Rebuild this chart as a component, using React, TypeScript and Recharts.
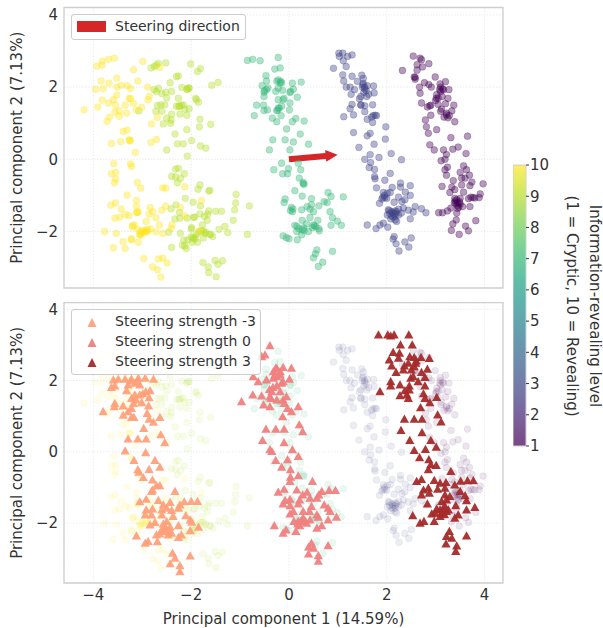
import React from 'react';
import { ScatterChart, Scatter, XAxis, YAxis, CartesianGrid, ReferenceArea, ReferenceLine } from 'recharts';

type Pt = [number, number];

// information-revealing level 10
const level10: Pt[] = [[-3.57,2.8],[-3.69,2.77],[-3.82,2.72],[-3.93,2.58],[-3.82,2.61],[-2.99,2.71],[-2.64,2.54],[-3.18,2.48],[-3.84,2.17],[-3.68,2.11],[-3.52,2.25],[-3.09,2.17],[-3.95,1.94],[-3.8,1.96],[-3.52,2],[-3.43,2.05],[-3.31,2.04],[-3.24,1.96],[-3.52,1.78],[-2.89,2],[-3.82,1.64],[-4.19,1.37],[-3.91,1.45],[-3.69,1.56],[-3.59,1.65],[-3.55,1.5],[-3.27,1.69],[-3.24,1.68],[-3.35,1.5],[-3.18,1.55],[-3.01,1.44],[-2.88,1.65],[-2.86,1.74],[-3.47,1.34],[-3.56,1.31],[-3.12,1.37],[-3.32,1.28],[-3.47,1.19],[-3.67,1.17],[-3.72,1.05],[-2.69,1.16],[-2.81,0.98],[-3.31,0.81],[-3.39,0.77],[-3.27,0.54],[-3.25,0.51],[-3.63,0.44],[-3.44,0.49],[-2.82,0.47],[-2.71,0.55],[-3.14,0.19],[-3.58,-0.12],[-3.24,-0.13],[-3.22,-0.2],[-3.54,-0.36],[-3.63,-0.4],[-3.54,-0.55],[-3.57,-0.65],[-3.1,-0.64],[-3.03,-0.8],[-2.58,-0.79],[-2.52,-0.8],[-3.31,-0.99],[-3.12,-1.14],[-3.55,-1.21],[-3.64,-1.27],[-3.12,-1.31],[-3.43,-1.38],[-3.08,-1.46],[-3.12,-1.48],[-2.84,-1.34],[-2.79,-1.45],[-2.86,-1.52],[-2.52,-1.3],[-2.6,-1.41],[-2.13,-0.76],[-1.79,-1.14],[-2.22,-1.33],[-2.13,-1.57],[-3.34,-1.53],[-3.27,-1.56],[-3.46,-1.6],[-3.56,-1.63],[-2.72,-1.62],[-2.92,-1.72],[-2.65,-1.82],[-3.2,-1.84],[-3.16,-1.82],[-2.39,-1.81],[-2.41,-1.92],[-3.77,-2],[-3.53,-2.05],[-3.09,-1.94],[-3.01,-2.03],[-3.05,-2.1],[-2.98,-1.98],[-2.89,-1.95],[-2.83,-1.93],[-2.92,-2],[-2.72,-2.01],[-2.58,-2.05],[-3.22,-2.23],[-3.39,-2.28],[-3.08,-2.3],[-3.59,-2.45],[-3.35,-2.47],[-2.97,-2.75],[-2.67,-2.76],[-2.58,-2.74],[-2.49,-2.87],[-2.79,-2.98],[-2.69,-3.06],[-2.62,-3.26],[-1.83,-1.98],[-2.95,-2.02],[-2.9,-2],[-3.05,-2.06],[-3.02,-2.1],[-3.22,-2.2],[-3.2,-1.88],[-3.1,-1.47],[-3.25,0.53],[-3.03,-2],[-2.94,-1.96]];

// level 9
const level9: Pt[] = [[-2.52,2.67],[-2.67,2.66],[-2.71,2.61],[-2.75,2.57],[-2.82,2.53],[-2.01,2.64],[-1.81,2.51],[-1.87,2.43],[-2.26,2.31],[-2.3,2.29],[-2.43,2.12],[-1.45,2.13],[-1.58,2.05],[-2.04,1.97],[-2.09,1.95],[-2.19,1.99],[-2.4,1.88],[-2.67,1.97],[-2.76,1.93],[-2.71,1.88],[-2.52,1.86],[-2.6,1.82],[-2.5,1.7],[-2.26,1.69],[-1.91,1.69],[-1.89,1.65],[-1.85,1.58],[-2.54,1.51],[-2.62,1.51],[-2.69,1.49],[-2.3,1.47],[-2.24,1.47],[-2.16,1.51],[-2.13,1.39],[-2.04,1.4],[-2.72,1.33],[-2.6,1.33],[-3.07,1.34],[-2.4,1.25],[-2.23,1.25],[-2.09,1.22],[-2.5,1.14],[-2.41,1.09],[-1.82,1.11],[-1.6,0.97],[-2.57,0.98],[-2.42,1],[-1.83,0.9],[-2.09,0.82],[-2.33,0.7],[-1.99,0.52],[-2.28,0.43],[-2.16,0.43],[-1.81,0.37],[-1.7,0.31],[-2.5,0.26],[-2.08,0.09],[-2.26,-0.25],[-2.32,-0.27],[-2.14,-0.4],[-2.4,-0.47],[-2.32,-0.49],[-2.22,-0.53],[-2.28,-0.65],[-1.82,-0.71],[-1.86,-0.83],[-1.62,-0.86],[-1.64,-0.88],[-1.08,-0.97],[-2.12,-1.08],[-1.96,-1.19],[-1.81,-1.29],[-1.09,-1.21],[-0.81,-1.29],[-2.31,-1.26],[-2.41,-1.37],[-2.24,-1.47],[-1.5,-1.44],[-1.38,-1.44],[-1.64,-1.43],[-1.11,-1.4],[-1.82,-1.51],[-1.66,-1.52],[-1.73,-1.58],[-1.93,-1.6],[-1.95,-1.61],[-2.33,-1.65],[-2.23,-1.63],[-2.08,-1.63],[-1.67,-1.69],[-1.14,-1.69],[-1.77,-1.82],[-1.99,-1.89],[-2,-1.93],[-1.31,-1.86],[-1.43,-1.94],[-1.75,-1.98],[-1.7,-2.02],[-1.25,-2.03],[-0.85,-2.08],[-2.22,-2.05],[-2.46,-2.02],[-1.89,-2.08],[-1.96,-2.16],[-1.92,-2.2],[-1.6,-2.08],[-1.56,-2.14],[-1.75,-2.18],[-2.15,-2.24],[-2.07,-2.23],[-1.98,-2.3],[-1.87,-2.3],[-2.18,-2.38],[-2.13,-2.4],[-2.1,-2.47],[-2.4,-2.44],[-1.76,-2.86],[-1.51,-2.8],[-1.36,-2.81],[-1.45,-2.91],[-1.65,-2.98],[-1.64,-3.14],[-1.49,-3.25],[-1.8,-1.98],[-1.85,-2.02],[-1.95,-2.2],[-2,-2.15],[-1.72,-2.05],[-1.62,-2.08],[-2.25,1.47],[-2.2,1.5],[-2.08,1.93],[-2.05,1.98]];

// level 7
const level7: Pt[] = [[-0.85,2.74],[-0.74,2.77],[-0.59,2.73],[-0.22,2.82],[-0.29,2.5],[-0.18,2.53],[-0.47,2.32],[-0.46,2.17],[-0.25,2.16],[-0.17,2.16],[-0.18,2.11],[-0.55,2.04],[-0.43,1.98],[-0.46,1.93],[-0.51,1.86],[-0.27,1.88],[-0.13,1.91],[0.02,1.85],[-0.51,1.74],[-0.22,1.65],[-0.12,1.65],[-0.66,1.5],[-0.52,1.5],[-0.44,1.37],[-0.51,1.35],[-0.22,1.42],[-0.25,1.35],[-0.71,1.21],[-0.34,1.14],[-0.16,1.21],[-0.25,1.04],[-0.05,0.84],[-0.33,0.54],[-0.08,0.54],[-0.4,0.26],[0.02,1.56],[0.07,2.11],[0.25,2.14],[0.09,1.94],[0.03,1.88],[0.17,1.72],[-0.1,1.69],[-0.15,1.47],[0.01,1.37],[0.14,1.13],[0.07,1.04],[0.31,1.06],[0.23,0.7],[0.09,0.48],[0.4,0.42],[0.02,0.26],[-0.22,1.97],[0.19,-0.11],[-0.15,-0.11],[-0.31,-0.29],[-0.13,-0.4],[-0.03,-0.4],[-0.01,-0.26],[0.24,-0.29],[0.21,-0.52],[0.29,-0.64],[0.31,-0.69],[0.12,-0.87],[0.27,-1.02],[-0.08,-1.1],[-0.1,-1.2],[0.46,-1.09],[0.8,-0.92],[0.86,-1.03],[1.11,-1.04],[0.72,-1.17],[0.78,-1.2],[0.61,-1.29],[0.46,-1.26],[0.37,-1.31],[0.43,-1.38],[0.5,-1.45],[0.05,-1.33],[0.07,-1.45],[0.26,-1.4],[0.84,-1.45],[0.89,-1.62],[0.99,-1.71],[1.07,-1.83],[0.86,-1.83],[0.59,-1.69],[0.27,-1.69],[0.43,-1.61],[0.36,-1.79],[0.52,-1.84],[0.48,-1.89],[0.61,-1.92],[0.62,-1.98],[0.12,-1.83],[0.16,-1.86],[0.16,-2],[0.31,-1.98],[0.4,-2],[0.26,-2.09],[-0.12,-2.12],[-0.05,-2.17],[0,-2.2],[0.17,-2.23],[0.57,-2.51],[0.89,-2.55],[0.54,-2.62],[0.5,-2.73],[0.69,-2.85],[0.6,-2.97],[-0.22,2.2],[-0.15,2.12],[-0.2,1.42],[-0.23,1.36],[0.03,-1.42],[0.08,-1.38],[0.5,-1.82],[0.55,-1.87],[0.3,-1.9],[0.27,-1.95],[0.2,-1.92],[0.29,-0.68],[-0.5,1.9]];

// level 3
const level3: Pt[] = [[1.02,2.94],[1.1,2.94],[1.03,2.85],[1.2,2.85],[1.29,2.89],[1.11,2.73],[0.91,2.52],[1.17,2.57],[1.1,2.34],[1.29,2.3],[1.49,2.33],[1.12,2.17],[1.52,2.24],[1.4,2.16],[1.17,2],[1.25,2],[1.34,1.93],[1.51,2.06],[1.55,2],[1.6,2.04],[1.73,2.03],[1.74,1.84],[1.27,1.8],[1.47,1.74],[1.59,1.74],[1.44,1.68],[1.63,1.8],[1.29,1.52],[1.25,1.4],[1.47,1.51],[1.55,1.48],[1.71,1.51],[1.55,1.32],[1.12,1.18],[1.32,1.23],[1.6,1.11],[1.72,1.21],[1.79,1.21],[1.71,1.02],[1.98,0.9],[1.32,0.74],[1.66,0.72],[1.6,0.65],[1.97,0.56],[1.74,0.42],[1.43,0.33],[1.66,0.13],[1.84,0.05],[2.09,0.16],[2.3,-0.01],[1.55,0],[1.67,-0.09],[1.64,-0.23],[1.75,-0.28],[2.07,-0.39],[1.75,-0.48],[1.76,-0.54],[1.96,-0.58],[1.79,-0.79],[2.11,-0.78],[2.28,-0.66],[2.28,-0.77],[2.48,-0.73],[2.38,-0.91],[2.48,-1],[1.93,-0.92],[2.01,-0.94],[2.07,-0.92],[1.96,-1.06],[1.9,-1.1],[2,-1.08],[2.24,-1.05],[2.37,-1.12],[2.31,-1.17],[2.15,-1.19],[1.85,-1.22],[2.44,-1.41],[2.54,-1.46],[2.58,-1.31],[2.71,-1.37],[2.8,-1.48],[2.03,-1.4],[2.1,-1.45],[2.17,-1.43],[2.24,-1.38],[2.34,-1.35],[2.01,-1.54],[2.1,-1.57],[2.17,-1.58],[2.24,-1.54],[2.3,-1.49],[2.17,-1.68],[2.08,-1.65],[2.2,-1.72],[2.48,-1.65],[1.6,-1.82],[1.78,-1.92],[1.86,-1.82],[1.93,-1.77],[2.02,-1.88],[2.15,-2.14],[2.13,-2.21],[2.19,-2.34],[2.5,-2.18],[2.37,-2.29],[2.45,-2.43],[2.25,-2.54],[2.12,-1.48],[2.15,-1.52],[2.18,-1.5],[2.06,-1.5],[2.2,-1.45],[2.13,-1.6],[2.05,-1.42],[1.95,-1],[1.92,-1.05],[1.5,2],[1.55,1.95],[1.52,2.1],[1.58,1.9],[1.53,1.85],[1.47,1.5],[1.76,1.22],[1.69,1.17]];

// level 1
const level1: Pt[] = [[2.54,2.86],[2.68,2.8],[2.71,2.76],[2.86,2.65],[2.62,2.62],[2.73,2.56],[2.62,2.47],[2.32,2.46],[2.56,2.28],[2.58,2.22],[2.99,2.28],[2.77,2.12],[2.86,2.07],[3.2,2.15],[3.09,2.09],[2.67,2],[2.91,2],[3.1,2],[3.16,1.93],[3.27,1.93],[2.68,1.83],[3.02,1.79],[3.01,1.69],[3.13,1.74],[3.25,1.69],[2.71,1.56],[2.88,1.48],[2.83,1.45],[3.05,1.52],[3.2,1.54],[3.37,1.5],[3.12,1.39],[3.1,1.33],[3.33,1.34],[2.9,1.22],[3.22,1.23],[3.17,1.17],[3.39,1.04],[2.79,1.09],[2.81,0.9],[3.02,0.82],[2.85,0.72],[3.31,0.6],[3.65,0.64],[2.88,0.4],[3.16,0.26],[2.97,0.26],[3.35,0.28],[3.46,0.34],[3.62,0.16],[3.22,0.13],[3.19,0],[3.11,-0.04],[3.24,-0.22],[3.19,-0.29],[3.22,-0.44],[3.57,-0.18],[3.63,-0.29],[3.5,-0.36],[3.69,-0.44],[3.6,-0.52],[3.36,-0.59],[3.53,-0.52],[3.74,-0.63],[3.97,-0.68],[3.13,-0.75],[3.33,-0.77],[3.53,-0.71],[3.7,-0.73],[3.39,-0.84],[3.29,-0.92],[3.57,-0.91],[3.91,-0.96],[3.89,-1.06],[3.76,-1.06],[3.67,-1.09],[3.7,-1.31],[3.39,-1.08],[3.43,-1.12],[3.46,-1.2],[3.5,-1.24],[3.55,-1.31],[3.31,-1.35],[3.43,-1.49],[3.24,-1.43],[3.14,-1.48],[3.06,-1.48],[3.42,-1.68],[3.35,-1.79],[3.82,-1.7],[3.61,-1.85],[3.32,-1.97],[3.67,-1.98],[3.48,-2.08],[3.5,-1.08],[3.41,-1.22],[3.44,-1.28],[3.47,-1.32],[3.4,-1.15],[3.45,-1.36],[3.49,-1.18],[3.38,-1.2],[3.72,-1.05],[3.8,-1.07],[3.08,1.93],[3.14,1.95],[3.1,1.88],[3.05,1.7],[3,1.63],[3.28,1.21],[3.25,1.15],[3.22,1.28],[2.58,2.27],[2.9,1.5]];

// steering strength -3
const steerNeg: Pt[] = [[-3.59,2.02],[-3.49,2.04],[-3.35,2.04],[-3.22,2.04],[-3.08,2.07],[-2.94,2.07],[-2.77,2.04],[-3.29,1.88],[-3.15,1.93],[-3.05,1.88],[-3.56,1.85],[-3.63,1.81],[-3.32,1.72],[-2.93,1.69],[-2.84,1.72],[-2.99,1.63],[-3.15,1.6],[-3.05,1.6],[-2.86,1.52],[-3.22,1.5],[-3.13,1.46],[-3.56,1.36],[-3.57,1.27],[-3.39,1.29],[-3.18,1.36],[-3.01,1.38],[-2.87,1.29],[-3.8,1.13],[-3.22,1.22],[-3.29,1.13],[-3.39,1.03],[-3.22,0.97],[-3.17,0.97],[-2.9,1.08],[-2.64,0.97],[-2.86,0.92],[-2.77,0.83],[-2.97,0.66],[-3.29,0.36],[-3.09,0.36],[-2.92,0.36],[-2.62,0.48],[-2.54,0.26],[-3.35,0.03],[-2.93,-0.02],[-3.17,-0.24],[-2.74,-0.24],[-3.09,-0.5],[-3.07,-0.57],[-2.86,-0.49],[-2.64,-0.43],[-2.98,-0.72],[-2.79,-0.79],[-2.71,-0.95],[-2.64,-0.95],[-2.79,-1.07],[-2.81,-1.11],[-2.33,-1.11],[-3.05,-1.4],[-2.92,-1.33],[-2.67,-1.36],[-2.43,-1.42],[-2.57,-1.49],[-2.14,-1.4],[-2,-1.39],[-1.87,-1.39],[-2.23,-1.49],[-2.26,-1.58],[-2.92,-1.63],[-2.79,-1.6],[-2.6,-1.63],[-2.5,-1.58],[-2.4,-1.64],[-2.94,-1.77],[-2.81,-1.77],[-2.6,-1.77],[-2.37,-1.81],[-2.11,-1.79],[-2.02,-1.91],[-1.99,-1.97],[-2.74,-1.98],[-2.84,-2.05],[-2.5,-1.95],[-2.57,-2.03],[-2.26,-2.07],[-1.85,-2.11],[-2.02,-2.21],[-2.43,-2.11],[-2.5,-2.19],[-2.57,-2.23],[-2.64,-2.3],[-2.71,-2.33],[-2.4,-2.28],[-2.47,-2.33],[-2.2,-2.33],[-2.26,-2.4],[-3.12,-2.36],[-2.88,-2.51],[-2.94,-2.56],[-2.69,-2.52],[-2.38,-2.84],[-2.33,-2.98],[-2.02,-2.92],[-2.43,-3.14],[-2.23,-3.19],[-2.23,-3.36],[-2.53,-2.14],[-2.46,-2.24],[-2.6,-2.18],[-3.24,2],[-3.1,1.98]];

// steering strength 0
const steerZero: Pt[] = [[-0.39,2.98],[-0.49,2.72],[-0.56,2.67],[-0.25,2.35],[-0.32,2.25],[-0.18,2.25],[-0.73,2.11],[-0.63,1.97],[-0.46,2.02],[-0.32,2.07],[-0.25,2.11],[-0.15,1.93],[-0.97,1.41],[-0.74,1.6],[-0.56,1.57],[-0.35,1.69],[-0.37,1.5],[-0.18,1.69],[-0.52,1.32],[-0.39,1.27],[-0.25,1.46],[-0.12,1.46],[-0.13,0.99],[-0.47,0.64],[-0.27,0.64],[-0.1,0.64],[-0.54,0.32],[-0.1,0.26],[-0.39,0.06],[-0.27,2.35],[-0.12,2.37],[0.05,2.35],[-0.29,2.16],[-0.18,2.16],[-0.12,1.97],[0.01,2.04],[-0.33,1.81],[-0.05,1.55],[-0.39,1.55],[-0.1,1.36],[-0.03,1.22],[0.05,1.13],[0.19,1.27],[0.21,0.76],[0.28,0.57],[0.07,0.06],[0.19,-0.13],[-0.35,0.01],[-0.27,-0.24],[-0.03,-0.22],[-0.15,-0.43],[0.03,-0.5],[0.19,-0.67],[0.03,-0.71],[0.02,-0.83],[0.48,-0.83],[-0.1,-1.05],[-0.22,-1.13],[0.16,-1.07],[0.37,-1.13],[0.28,-1.21],[0.67,-1.11],[0.82,-1.08],[0.95,-1.08],[0.61,-1.21],[0.57,-1.3],[0.43,-1.3],[0.22,-1.35],[-0.08,-1.36],[0.02,-1.33],[-0.12,-1.46],[0.02,-1.51],[0.19,-1.46],[0.46,-1.53],[0.72,-1.49],[0.8,-1.58],[0.84,-1.67],[0.09,-1.67],[0.02,-1.74],[0.29,-1.67],[0.42,-1.67],[0.57,-1.77],[0.6,-1.83],[0.97,-1.83],[0.8,-1.91],[-0.3,-2.07],[0.29,-1.86],[0.19,-1.95],[0.1,-1.95],[0.43,-1.91],[0.36,-2],[0.22,-2.07],[0.14,-2.23],[-0.06,-2.19],[-0.12,-2.28],[0.67,-2.07],[0.57,-2.14],[0.46,-2.56],[0.4,-2.67],[0.8,-2.63],[0.5,-2.7],[0.4,-2.86],[0.6,-2.91],[0.6,-3.07],[0.25,-1.92],[0.33,-1.95],[0.18,-2.02],[-0.25,1.85],[-0.4,1.75]];

// steering strength 3
const steerPos: Pt[] = [[1.83,3.28],[2.02,3.28],[2.08,3.25],[2.15,3.28],[2.45,3.28],[2.28,3],[2.52,3],[2.13,2.79],[2.26,2.77],[2.05,2.58],[2.24,2.63],[2.47,2.67],[2.56,2.65],[2.7,2.65],[2.87,2.62],[2.59,2.49],[2.44,2.49],[2.1,2.41],[2.36,2.41],[2.34,2.3],[2.56,2.39],[2.83,2.32],[2.19,2.23],[2.71,2.23],[2.49,2.07],[2.54,2.11],[2.78,2.09],[2.08,1.97],[2.08,1.85],[2.27,1.88],[2.64,1.97],[2.46,1.85],[2.78,1.85],[1.86,1.69],[2.37,1.72],[2.46,1.74],[2.27,1.58],[2.41,1.6],[2.75,1.63],[2.44,1.5],[2.78,1.5],[3.02,1.53],[2.88,1.38],[2.69,1.24],[2.36,0.92],[2.56,0.92],[2.72,0.92],[3.04,1.04],[3.11,0.84],[2.29,0.6],[2.72,0.54],[2.47,0.32],[2.9,0.32],[2.56,0.04],[2.79,0.07],[3.01,0.13],[2.67,-0.16],[2.86,-0.22],[2.9,-0.36],[3.01,-0.38],[2.85,-0.5],[3.31,-0.55],[2.71,-0.77],[2.61,-0.83],[2.97,-0.8],[3.09,-0.88],[3.21,-0.86],[3.51,-0.82],[3.65,-0.81],[3.77,-0.81],[3.39,-0.93],[2.75,-1.07],[2.85,-1.02],[3.04,-1.05],[3.19,-1.02],[2.71,-1.21],[2.87,-1.16],[3.19,-1.21],[3.29,-1.25],[3.5,-1.11],[3.6,-1.23],[3.63,-1.37],[2.83,-1.46],[3.22,-1.35],[3.12,-1.39],[3.41,-1.51],[3.63,-1.63],[3.8,-1.56],[3.19,-1.53],[3.09,-1.63],[2.99,-1.72],[3.26,-1.63],[2.92,-1.74],[3.09,-1.81],[3.22,-1.67],[3.46,-1.77],[3.39,-1.86],[2.53,-1.79],[2.97,-1.95],[2.76,-1.95],[2.68,-2],[3.28,-2.23],[3.22,-2.37],[3.33,-2.42],[3.63,-2.36],[3.21,-2.58],[3.43,-2.64],[3.41,-2.79],[3.15,-1.6],[3.12,-1.72],[3.18,-1.76],[3.02,-1.6],[2.5,2.3],[2.6,2.55]];

const arrowStart: Pt = [0, 0];
const arrowEnd: Pt = [0.995, 0.125];

const xTicks = [-4, -2, 0, 2, 4];
const yTicks = [-2, 0, 2, 4];
const barTicks = [1, 2, 3, 4, 5, 6, 7, 8, 9, 10];
const viridisStops = ['#440154', '#482475', '#414487', '#355f8d', '#2a788e', '#21918c', '#22a884', '#44bf70', '#7ad151', '#bddf26', '#fde725'];

const levelSeries: { pts: Pt[]; color: string }[] = [
  { pts: level1, color: '#440154' },
  { pts: level3, color: '#414487' },
  { pts: level7, color: '#35b779' },
  { pts: level9, color: '#b5de2b' },
  { pts: level10, color: '#fde725' },
];

const steerSeries: { pts: Pt[]; color: string; label: string }[] = [
  { pts: steerNeg, color: '#ffa07a', label: 'Steering strength -3' },
  { pts: steerZero, color: '#f08080', label: 'Steering strength 0' },
  { pts: steerPos, color: '#a52a2a', label: 'Steering strength 3' },
];

const FONT = '"DejaVu Sans", sans-serif';
const INK = '#333333';
const xDomain: [number, number] = [-4.6, 4.376];
const rows = (pts: Pt[]) => pts.map(([x, y]) => ({ x, y }));
const fmt = (v: number) => String(v).replace('-', '\u2212');

const dot = (color: string, opacity: number) => (p: any) => (
  <circle cx={p.cx} cy={p.cy} r={3.4} fill={color} fillOpacity={opacity} stroke={color} strokeOpacity={opacity} strokeWidth={0.6} />
);

const triangle = (color: string) => (p: any) => (
  <polygon points={`${p.cx},${p.cy - 4.6} ${p.cx + 4.6},${p.cy + 3.6} ${p.cx - 4.6},${p.cy + 3.6}`} fill={color} fillOpacity={0.95} />
);

const Arrow = (p: any) => {
  const { x1, y1, x2, y2 } = p;
  const len = Math.hypot(x2 - x1, y2 - y1);
  const ux = (x2 - x1) / len;
  const uy = (y2 - y1) / len;
  const at = (along: number, side: number) => `${x1 + ux * along - uy * side},${y1 + uy * along + ux * side}`;
  const neck = len - 12;
  return (
    <polygon
      points={[at(0, -3), at(neck, -3), at(neck, -6), at(len, 0), at(neck, 6), at(neck, 3), at(0, 3)].join(' ')}
      fill="#d62728"
    />
  );
};

const Panel = ({ top, height, marginTop, marginBottom, yDomain, showX, children }: any) => (
  <div style={{ position: 'absolute', left: 0, top }}>
    <ScatterChart width={603} height={height} margin={{ top: marginTop, right: 100, bottom: marginBottom, left: 0 }}>
      <CartesianGrid stroke="#ececec" strokeDasharray="1.5 1.5" />
      <XAxis
        type="number"
        dataKey="x"
        domain={xDomain}
        ticks={xTicks}
        allowDataOverflow
        hide={!showX}
        height={marginBottom === 0 ? 45 : 0}
        axisLine={false}
        tickLine={false}
        tickMargin={0}
        tickFormatter={fmt}
        tick={{ fill: INK, fontSize: 15, fontFamily: FONT }}
        label={showX ? { value: 'Principal component 1 (14.59%)', position: 'insideBottom', offset: 4, fill: INK, fontSize: 15, fontFamily: FONT } : undefined}
      />
      <YAxis
        type="number"
        dataKey="y"
        domain={yDomain}
        ticks={yTicks}
        allowDataOverflow
        width={64}
        axisLine={false}
        tickLine={false}
        tickMargin={0}
        tickFormatter={fmt}
        tick={{ fill: INK, fontSize: 15, fontFamily: FONT }}
        label={{ value: 'Principal component 2 (7.13%)', angle: -90, position: 'insideLeft', offset: 17, style: { textAnchor: 'middle' }, fill: INK, fontSize: 15, fontFamily: FONT }}
      />
      {children}
      <ReferenceArea x1={xDomain[0]} x2={xDomain[1]} y1={yDomain[0]} y2={yDomain[1]} fill="none" stroke="#cfcfcf" strokeWidth={1.3} />
    </ScatterChart>
  </div>
);

const legendBox: React.CSSProperties = {
  position: 'absolute',
  left: 71,
  background: 'rgba(255,255,255,0.85)',
  border: '1px solid #cccccc',
  borderRadius: 3,
  boxSizing: 'border-box',
  fontFamily: FONT,
  fontSize: 14,
  color: INK,
};

const barRows = barTicks.map((y) => ({ x: 0.5, y }));

const ColorBar = () => (
  <div style={{ position: 'absolute', left: 513, top: 155 }}>
    <ScatterChart width={50} height={301} margin={{ top: 10, right: 0, bottom: 10, left: 0 }}>
      <defs>
        <linearGradient id="viridisBar" x1="0" y1="1" x2="0" y2="0">
          {viridisStops.map((c, i) => (
            <stop key={c} offset={i / (viridisStops.length - 1)} stopColor={c} stopOpacity={0.72} />
          ))}
        </linearGradient>
      </defs>
      <XAxis type="number" dataKey="x" domain={[0, 1]} hide />
      <YAxis
        type="number"
        dataKey="y"
        orientation="right"
        domain={[1, 10]}
        ticks={barTicks}
        interval={0}
        width={37}
        axisLine={false}
        tickSize={3}
        tickMargin={1}
        tickLine={{ stroke: INK }}
        tick={{ fill: INK, fontSize: 15, fontFamily: FONT }}
      />
      <Scatter data={barRows} shape={() => null} isAnimationActive={false} />
      <ReferenceArea x1={0} x2={1} y1={1} y2={10} fill="url(#viridisBar)" fillOpacity={1} stroke="#d0d0d0" strokeWidth={1} />
    </ScatterChart>
  </div>
);

export default function App() {
  return (
    <div style={{ position: 'absolute', left: 0, top: 0, width: 603, height: 628, background: '#fff', overflow: 'hidden' }}>
      <Panel top={0} height={300} marginTop={7.5} marginBottom={12} yDomain={[-3.565, 4.205]}>
        {levelSeries.map((s) => (
          <Scatter key={s.color} data={rows(s.pts)} shape={dot(s.color, 0.4)} isAnimationActive={false} />
        ))}
        <ReferenceLine
          segment={[
            { x: arrowStart[0], y: arrowStart[1] },
            { x: arrowEnd[0], y: arrowEnd[1] },
          ]}
          shape={Arrow}
        />
      </Panel>
      <Panel top={295} height={333} marginTop={7.7} marginBottom={0} yDomain={[-3.68, 4.185]} showX>
        {levelSeries.map((s) => (
          <Scatter key={s.color} data={rows(s.pts)} shape={dot(s.color, 0.1)} isAnimationActive={false} />
        ))}
        {steerSeries.map((s) => (
          <Scatter key={s.label} data={rows(s.pts)} shape={triangle(s.color)} isAnimationActive={false} />
        ))}
      </Panel>

      <div style={{ ...legendBox, top: 14, width: 175, height: 25.5 }}>
        <div style={{ position: 'absolute', left: 5, top: 6, width: 29, height: 11, background: '#d62728' }} />
        <div style={{ position: 'absolute', left: 43, top: 3 }}>Steering direction</div>
      </div>
      <div style={{ ...legendBox, top: 309, width: 190, height: 66 }}>
        {steerSeries.map((s, i) => (
          <React.Fragment key={s.label}>
            <svg style={{ position: 'absolute', left: 14, top: 7 + i * 20 }} width={12} height={12}>
              <polygon points="6,1 10.5,10 1.5,10" fill={s.color} fillOpacity={0.95} />
            </svg>
            <div style={{ position: 'absolute', left: 43, top: 3 + i * 20, whiteSpace: 'nowrap' }}>{s.label}</div>
          </React.Fragment>
        ))}
      </div>

      <ColorBar />
      <svg style={{ position: 'absolute', left: 0, top: 0, pointerEvents: 'none' }} width={603} height={628}>
        <text transform="translate(590,306) rotate(90)" textAnchor="middle" fontFamily={FONT} fontSize={15} fill={INK}>
          Information-revealing level
        </text>
        <text transform="translate(567,306) rotate(90)" textAnchor="middle" fontFamily={FONT} fontSize={15} fill={INK}>
          (1 = Cryptic, 10 = Revealing)
        </text>
      </svg>
    </div>
  );
}
